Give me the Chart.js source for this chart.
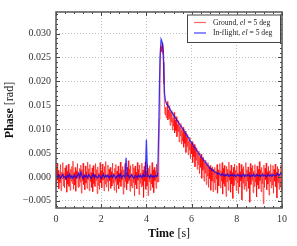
<!DOCTYPE html>
<html><head><meta charset="utf-8">
<script src="https://cdn.jsdelivr.net/npm/chart.js@4/dist/chart.umd.min.js"></script>
<style>html,body{margin:0;padding:0;background:#fff}canvas{display:block}</style>
</head><body>
<canvas id="c" width="297" height="246"></canvas>
<script>
// sample spacing of each recording, seconds
const groundStep = 0.025;
const inflightStep = 0.05;
// Phase values, in milliradians
const groundMrad = [
 2.1,-1.8,2.9,-0.7,1.4,-2.5,0.6,-1.2,2.6,-2.9,1.0,-0.4,3.0,-1.9,0.8,-2.3,1.9,-0.6,2.4,-3.2,
 1.2,-1.5,2.7,-2.0,0.5,-2.8,1.6,-0.9,2.2,-1.4,3.3,-2.6,0.9,-1.7,2.0,-3.0,1.3,-0.3,2.8,-2.2,
 0.7,-2.0,1.8,-1.1,2.5,-3.4,1.5,-0.8,2.9,-1.6,0.4,-2.7,2.3,-1.3,1.1,-2.4,3.1,-0.5,1.7,-2.9,
 2.6,-1.0,0.9,-2.2,1.9,-3.1,2.4,-1.4,0.6,-2.0,2.8,-0.7,1.5,-3.5,2.1,-1.8,0.8,-2.6,3.0,-1.2,
 1.3,-2.3,2.7,-0.6,1.0,-2.9,2.2,-1.5,3.2,-2.1,0.5,-1.0,2.5,-3.0,1.6,-0.8,2.0,-2.4,1.1,-1.9,
 2.9,-1.3,0.7,-2.8,1.8,-0.9,2.6,-3.3,1.2,-1.6,2.3,-2.5,0.8,-1.1,3.1,-2.0,1.4,-0.6,2.2,-3.6,
 1.5,-2.2,2.8,-1.0,0.9,-2.7,2.0,-1.4,3.4,-0.8,1.7,-3.0,2.4,-1.9,0.6,-2.3,2.7,-1.2,1.9,-4.0,
 2.3,-1.6,1.0,-2.5,3.0,-0.7,1.6,-3.7,2.5,-1.3,0.8,-2.1,2.9,-1.8,1.4,-4.3,2.2,-0.9,3.1,-2.6,
 1.1,-1.9,2.6,-3.9,1.8,-1.0,2.4,-2.8,0.7,-1.5,3.0,-2.2,1.5,-3.3,2.0,-0.8,1.3,-2.4,2.7,-1.1,
 0.8,-1.0,4,12,20,25.5,27.3,26.2,27.9,25.8,24.0,19.5,15.0,13.0,14.6,12.4,
 13.5,15.8,11.9,14.0, 12.2,14.9,10.8,13.6, 11.5,13.9,9.8,12.4, 10.6,13.5,9.2,11.9,
 9.7,12.6,8.4,11.0, 9.5,11.8,7.3,10.6, 8.6,11.2,6.9,9.8, 7.5,10.4,6.2,9.1,
 7.0,9.6,5.1,8.3, 6.4,8.9,4.6,7.6, 5.6,8.3,3.8,7.0, 4.8,7.4,3.0,6.3,
 4.2,6.8,2.1,5.5, 3.5,6.1,1.6,4.9, 2.6,5.4,0.7,4.1, 2.0,4.8,-0.3,3.6,
 1.4,4.1,-0.9,3.0, 0.8,3.5,-1.6,2.6, 0.2,3.0,-2.2,2.1, -0.4,2.4,-2.8,1.8,
 -0.9,2.1,-3.1,1.6,
 -1.2,2.0,-2.7,1.1,-0.5,2.6,-3.4,1.5,-1.9,0.7,2.8,-2.3,1.2,-0.9,3.0,-3.6,1.8,-1.4,2.4,-2.0,
 0.6,-4.1,2.2,-1.0,1.6,-2.8,3.1,-0.7,1.3,-3.2,2.5,-1.5,0.9,-4.5,2.0,-1.8,2.7,-0.6,1.4,-2.9,
 2.3,-1.2,0.8,-3.5,2.9,-2.1,1.1,-0.8,2.6,-4.8,1.7,-1.3,2.2,-2.6,0.5,-1.9,3.0,-3.0,1.5,-0.9,
 2.1,-2.4,1.0,-5.3,2.8,-1.6,1.9,-0.7,2.4,-3.3,1.2,-2.0,2.6,-1.1,0.7,-4.2,2.3,-1.7,1.6,-2.5,
 3.2,-0.8,1.4,-3.1,2.0,-1.4,0.9,-5.6,2.5,-2.2,1.8,-0.6,2.9,-2.7,1.1,-1.5,2.2,-3.8,1.3,-1.0,
 2.6,-2.3,0.8,-1.7,2.4,-3.4,1.6,-0.9,2.7,-2.1,1.0,-4.4,2.2,-1.2,1.7,-2.6,0.6,-1.8,2.5,-3.0,
 0.4
];
const inflightMrad = [
 0.3,-0.2,0.4,0.0,-0.3,0.2,0.5,-0.1,0.1,-0.4,0.3,0.0,0.6,-0.2,0.2,-0.3,0.4,0.1,-0.2,0.3,
 0.8,-0.1,1.0,0.2,-0.3,0.4,0.0,0.3,-0.2,0.5,0.1,-0.3,0.2,0.6,-0.1,0.3,0.0,-0.2,0.4,0.1,
 -0.3,0.2,0.5,-0.1,0.3,0.0,0.4,-0.2,0.1,0.3,-0.1,0.5,0.2,-0.3,0.1,0.4,0.0,0.6,-0.2,0.2,
 0.3,-0.1,4.0,0.2,0.4,-0.2,0.1,0.5,0.0,-0.3,0.3,0.2,-0.1,0.4,0.0,0.3,-0.2,0.5,0.1,0.2,
 7.8,0.1,0.3,-0.2,0.4,0.0,0.2,-0.1,0.3,0.1,
 0.4,11,25,28.8,28.2,26.5,17.5,15.8,15.2,15.0,14.5,
 14.2,13.6,13.4,12.8,12.7,12.2,11.9,11.5,11.2,10.7,10.6,10.0,9.9,9.2,9.1,8.5,8.3,7.8,7.5,7.1,
 6.9,6.3,6.2,5.6,5.5,4.9,4.8,4.2,4.1,3.6,3.5,3.0,2.9,2.4,2.3,1.8,1.8,1.4,1.4,1.1,
 1.0,0.9,0.6,0.8,0.5,0.3,0.7,0.4,0.2,0.5,0.3,0.6,0.1,0.4,0.3,0.5,0.2,0.4,0.1,0.3,
 0.5,0.2,0.4,0.0,0.3,0.6,0.1,0.4,0.2,0.5,0.3,0.0,0.4,0.2,0.6,0.1,0.3,0.5,0.2,0.4,
 0.1,0.3,0.5,0.2,0.4,0.0,0.3,0.6,0.2,0.4,0.1,0.5,0.3,0.2,0.4,0.7,0.3,0.5,0.8,0.4
];
const xTickValues = [0, 2, 4, 6, 8, 10];
const yTickValues = [-0.005, 0, 0.005, 0.010, 0.015, 0.020, 0.025, 0.030];
const seriesNames = ['Ground', 'In-flight'];
const elevationDeg = 5;

const toPoints = (arr, step) => arr.map((v, i) => ({ x: i * step, y: v / 1000 }));
const SERIF = '"Liberation Serif", "DejaVu Serif", serif';
const RED = 'rgba(255,0,0,0.6)';
const BLUE = 'rgba(0,0,255,0.75)';

function richText(ctx, parts, x, y) {
  let cx = x;
  for (const p of parts) { ctx.font = p.f; ctx.fillText(p.t, cx, y); cx += ctx.measureText(p.t).width; }
  return cx - x;
}
function richWidth(ctx, parts) {
  let w = 0; for (const p of parts) { ctx.font = p.f; w += ctx.measureText(p.t).width; } return w;
}

const decor = {
  id: 'decor',
  afterDatasetsDraw(chart) {
    const { ctx, chartArea: a, scales } = chart;
    const xs = scales.x, ys = scales.y;
    ctx.save();
    ctx.strokeStyle = '#444'; ctx.lineWidth = 1;
    ctx.beginPath();
    for (let k = 0; k <= 25; k++) {
      const px = Math.round(xs.getPixelForValue(k * 0.4)) + 0.5;
      ctx.moveTo(px, a.bottom); ctx.lineTo(px, a.bottom - 2);
      ctx.moveTo(px, a.top); ctx.lineTo(px, a.top + 2);
    }
    for (const v of xTickValues) {
      const px = Math.round(xs.getPixelForValue(v)) + 0.5;
      ctx.moveTo(px, a.bottom); ctx.lineTo(px, a.bottom - 4);
      ctx.moveTo(px, a.top); ctx.lineTo(px, a.top + 4);
    }
    for (let k = -6; k <= 34; k++) {
      const py = Math.round(ys.getPixelForValue(k / 1000)) + 0.5;
      ctx.moveTo(a.left, py); ctx.lineTo(a.left + 2, py);
      ctx.moveTo(a.right, py); ctx.lineTo(a.right - 2, py);
    }
    for (const v of yTickValues) {
      const py = Math.round(ys.getPixelForValue(v)) + 0.5;
      ctx.moveTo(a.left, py); ctx.lineTo(a.left + 4, py);
      ctx.moveTo(a.right, py); ctx.lineTo(a.right - 4, py);
    }
    ctx.stroke();
    ctx.strokeStyle = '#555'; ctx.lineWidth = 1.5;
    ctx.strokeRect(a.left, a.top, a.right - a.left, a.bottom - a.top);

    // legend
    const lx = 187, ly = 14.5, lw = 94, lh = 28.5;
    ctx.fillStyle = '#fff'; ctx.fillRect(lx, ly, lw, lh);
    ctx.strokeStyle = '#444'; ctx.lineWidth = 1; ctx.strokeRect(lx + 0.5, ly + 0.5, lw - 1, lh - 1);
    const fs = 7.6;
    const fN = fs + 'px ' + SERIF, fI = 'italic ' + fs + 'px ' + SERIF;
    const cols = [RED, BLUE];
    ctx.textBaseline = 'middle';
    seriesNames.forEach((name, i) => {
      const yy = ly + 8 + i * 10.5;
      ctx.strokeStyle = cols[i]; ctx.lineWidth = 1.2;
      ctx.beginPath(); ctx.moveTo(lx + 7, yy); ctx.lineTo(lx + 19, yy); ctx.stroke();
      ctx.fillStyle = '#222';
      richText(ctx, [{ t: name + ', ', f: fN }, { t: 'el', f: fI }, { t: ' = ' + elevationDeg + ' deg', f: fN }], lx + 26, yy);
    });

    // axis titles
    const bold = 'bold 12px ' + SERIF, norm = '12px ' + SERIF;
    const xt = [{ t: 'Time', f: bold }, { t: ' [s]', f: norm }];
    const xw = richWidth(ctx, xt);
    ctx.fillStyle = '#111'; ctx.textBaseline = 'middle';
    richText(ctx, xt, (a.left + a.right) / 2 - xw / 2, 234);
    const yt = [{ t: 'Phase', f: bold }, { t: ' [rad]', f: norm }];
    const yw = richWidth(ctx, yt);
    ctx.translate(10, (a.top + a.bottom) / 2);
    ctx.rotate(-Math.PI / 2);
    richText(ctx, yt, -yw / 2, 0);
    ctx.restore();
  }
};

const tickFont = { family: SERIF, size: 10 };
new Chart(document.getElementById('c'), {
  type: 'line',
  data: {
    datasets: [
      { label: seriesNames[0], data: toPoints(groundMrad, groundStep), borderColor: RED, borderWidth: 1, order: 2 },
      { label: seriesNames[1], data: toPoints(inflightMrad, inflightStep), borderColor: BLUE, borderWidth: 1.3, order: 1 }
    ]
  },
  options: {
    responsive: false, animation: false, devicePixelRatio: 1,
    elements: { point: { radius: 0 }, line: { tension: 0 } },
    layout: { padding: { left: 0, right: 15, top: 12, bottom: 0 } },
    plugins: { legend: { display: false }, tooltip: { enabled: false } },
    scales: {
      x: {
        type: 'linear', min: 0, max: 10,
        afterBuildTicks: s => { s.ticks = xTickValues.map(v => ({ value: v })); },
        afterFit: s => { s.height = 38; },
        ticks: { font: tickFont, color: '#333', padding: 5, maxRotation: 0, callback: v => String(v) },
        grid: { color: '#bdbdbd', lineWidth: 1, drawTicks: false },
        border: { display: false, dash: [1, 2] }
      },
      y: {
        type: 'linear', min: -0.0065, max: 0.0345,
        afterBuildTicks: s => { s.ticks = yTickValues.map(v => ({ value: v })); },
        afterFit: s => { s.width = 56; },
        ticks: { font: tickFont, color: '#333', padding: 5,
          callback: v => (v < 0 ? '\u2212' : '') + Math.abs(v).toFixed(3) },
        grid: { color: '#bdbdbd', lineWidth: 1, drawTicks: false },
        border: { display: false, dash: [1, 2] }
      }
    }
  },
  plugins: [decor]
});
</script>
</body></html>
